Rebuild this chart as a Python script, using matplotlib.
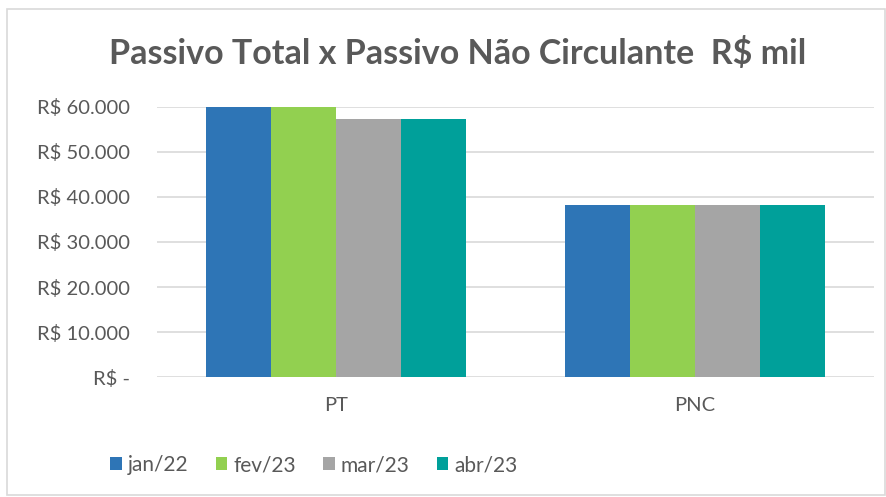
import matplotlib
matplotlib.use("Agg")
import matplotlib.pyplot as plt
import numpy as np
from matplotlib.patches import Rectangle

categories = ["PT", "PNC"]
series_names = ["jan/22", "fev/23", "mar/23", "abr/23"]
values = {
    "jan/22": [60000, 38200],
    "fev/23": [60000, 38200],
    "mar/23": [57300, 38200],
    "abr/23": [57300, 38200],
}
colors = ["#2E75B6", "#92D050", "#A5A5A5", "#00A09A"]
yticks = [0, 10000, 20000, 30000, 40000, 50000, 60000]

plt.rcParams['font.family'] = ['Lato', 'DejaVu Sans']
text_color = "#595959"

W, H = 886, 497
fig = plt.figure(figsize=(W / 100, H / 100), dpi=100)
fig.patch.set_facecolor("white")

# outer border
fig.add_artist(Rectangle((7 / W, 2 / H), (W - 8) / W, (H - 11) / H, transform=fig.transFigure,
                         fill=False, edgecolor="#D9D9D9", linewidth=1.2))

left, right, top, bottom = 157, 874, 106.7, 377.3
ax = fig.add_axes([left / W, 1 - bottom / H, (right - left) / W, (bottom - top) / H])

x = np.arange(len(categories))
bw = 0.181
n = len(series_names)
for i, (name, c) in enumerate(zip(series_names, colors)):
    offs = (i - (n - 1) / 2) * bw
    ax.bar(x + offs, values[name], width=bw, color=c, label=name, zorder=3)

ax.set_xlim(-0.5, len(categories) - 0.5)
ax.set_ylim(0, 60000)
ax.set_yticks(yticks)
ax.set_yticklabels(["R$ -" if v == 0 else "R$ " + f"{v:,}".replace(",", ".") for v in yticks])
ax.set_xticks(x)
ax.set_xticklabels(categories)
ax.grid(axis="y", color="#D9D9D9", linewidth=1.2, zorder=0)
for s in ax.spines.values():
    s.set_visible(False)
ax.tick_params(axis="y", length=0, pad=19.5, labelsize=14.5, labelcolor=text_color)
ax.tick_params(axis="x", length=0, pad=14, labelsize=14.5, labelcolor=text_color)

fig.text(0.516, 1 - 53 / H, "Passivo Total x Passivo Não Circulante  R$ mil",
         ha="center", va="center", fontsize=24.5, fontweight="bold", color=text_color)

fig.legend(loc="center left", bbox_to_anchor=(102 / W, 1 - 465 / H), ncol=4, frameon=False,
           fontsize=15, labelcolor=text_color, handlelength=0.55, handleheight=0.55,
           handletextpad=0.3, columnspacing=1.3, borderaxespad=0)

fig.savefig("out.png", dpi=100, facecolor="white")
